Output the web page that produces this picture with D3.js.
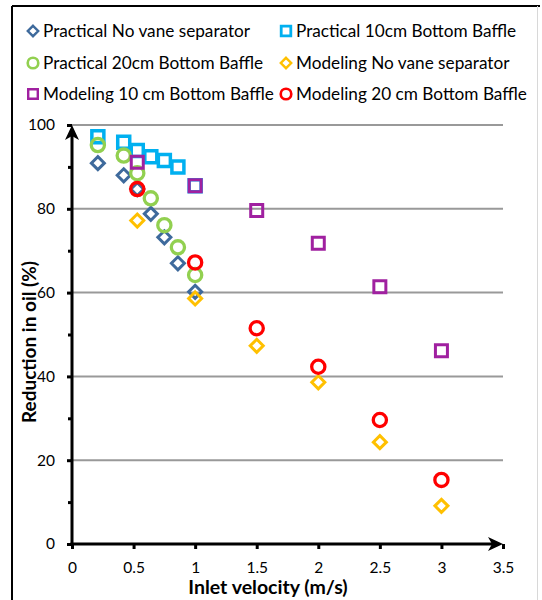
<!DOCTYPE html>
<html>
<head>
<meta charset="utf-8">
<script src="https://cdn.jsdelivr.net/npm/d3@7"></script>
<style>
  html, body { margin: 0; padding: 0; background: #fff; }
  svg { display: block; }
  text { font-family: Lato, "Open Sans", sans-serif; fill: #000; }
</style>
</head>
<body>
<svg id="chart" width="542" height="600"></svg>
<script>
// Inlet velocity (m/s) for the practical runs and the modelling runs
const practicalVelocity = [0.21, 0.42, 0.53, 0.64, 0.75, 0.86, 1.0];
const modelingVelocity = [0.53, 1.0, 1.5, 2.0, 2.5, 3.0];

// Reduction in oil (%) per configuration
const practicalNoVane = [90.9, 88.0, 84.7, 78.8, 73.2, 67.0, 60.2];
const practical10cm = [97.2, 95.9, 93.9, 92.4, 91.5, 90.0, 85.5];
const practical20cm = [95.2, 92.7, 88.5, 82.5, 76.1, 70.8, 64.2];
const modelingNoVane = [77.2, 58.6, 47.3, 38.6, 24.3, 9.1];
const modeling10cm = [91.1, 85.5, 79.6, 71.8, 61.4, 46.1];
const modeling20cm = [84.7, 67.2, 51.5, 42.3, 29.6, 15.3];

const seriesNames = [
  "Practical No vane separator", "Practical 10cm Bottom Baffle",
  "Practical 20cm Bottom Baffle", "Modeling No vane separator",
  "Modeling 10 cm Bottom Baffle", "Modeling 20 cm Bottom Baffle"
];

const xTicks = [0, 0.5, 1, 1.5, 2, 2.5, 3, 3.5];
const yTicks = [0, 20, 40, 60, 80, 100];
const yMinorTicks = [10, 30, 50, 70, 90];

const series = [
  { name: seriesNames[0], xs: practicalVelocity, ys: practicalNoVane, shape: "diamond", color: "#3E6A9C" },
  { name: seriesNames[1], xs: practicalVelocity, ys: practical10cm, shape: "square", color: "#00B0F0" },
  { name: seriesNames[2], xs: practicalVelocity, ys: practical20cm, shape: "circle", color: "#92D050" },
  { name: seriesNames[3], xs: modelingVelocity, ys: modelingNoVane, shape: "diamond", color: "#FFC000" },
  { name: seriesNames[4], xs: modelingVelocity, ys: modeling10cm, shape: "square", color: "#A020A0" },
  { name: seriesNames[5], xs: modelingVelocity, ys: modeling20cm, shape: "circle", color: "#FF0000" }
];

const svg = d3.select("#chart");

// outer frame
svg.append("line").attr("x1", 12).attr("y1", 6).attr("x2", 540).attr("y2", 6)
  .attr("stroke", "#000").attr("stroke-width", 2);
svg.append("line").attr("x1", 12).attr("y1", 6).attr("x2", 12).attr("y2", 600)
  .attr("stroke", "#000").attr("stroke-width", 2);
svg.append("line").attr("x1", 537.5).attr("y1", 6).attr("x2", 537.5).attr("y2", 600)
  .attr("stroke", "#d8d8d8").attr("stroke-width", 1);

const x = d3.scaleLinear().domain([0, 3.5]).range([72, 503]);
const y = d3.scaleLinear().domain([0, 100]).range([544, 125]);

// horizontal gridlines
svg.append("g").selectAll("line")
  .data(yTicks.filter(d => d > 0))
  .join("line")
  .attr("x1", x(0)).attr("x2", x(3.5))
  .attr("y1", d => y(d)).attr("y2", d => y(d))
  .attr("stroke", "#999").attr("stroke-width", 2);

// y axis: major ticks with labels, minor ticks without
const yAxis = svg.append("g").attr("transform", `translate(${x(0)},0)`)
  .call(d3.axisLeft(y).tickValues(yTicks).tickSize(5).tickPadding(12).tickFormat(d3.format("d")));
yAxis.select(".domain").remove();
yAxis.selectAll(".tick line").attr("stroke", "#000").attr("stroke-width", 3);
yAxis.selectAll(".tick text").style("font-size", "15.5px").style("font-family", "Lato, sans-serif");

const yMinor = svg.append("g").attr("transform", `translate(${x(0)},0)`)
  .call(d3.axisLeft(y).tickValues(yMinorTicks).tickSize(4).tickFormat(""));
yMinor.select(".domain").remove();
yMinor.selectAll(".tick line").attr("stroke", "#000").attr("stroke-width", 3);

// x axis
const xAxis = svg.append("g").attr("transform", `translate(0,${y(0)})`)
  .call(d3.axisBottom(x).tickValues(xTicks).tickSize(5).tickPadding(13).tickFormat(d3.format("")));
xAxis.select(".domain").remove();
xAxis.selectAll(".tick line").attr("stroke", "#000").attr("stroke-width", 3);
xAxis.selectAll(".tick text").style("font-size", "15.5px").style("font-family", "Lato, sans-serif");

// axis lines with arrow heads
svg.append("line").attr("x1", x(0)).attr("x2", x(0)).attr("y1", y(0) + 1.5).attr("y2", y(100) + 4)
  .attr("stroke", "#000").attr("stroke-width", 3);
svg.append("line").attr("x1", x(0) - 1.5).attr("x2", x(3.5) - 4).attr("y1", y(0)).attr("y2", y(0))
  .attr("stroke", "#000").attr("stroke-width", 3);
svg.append("path")
  .attr("d", `M${x(0)},${y(100)} L${x(0) - 7},${y(100) + 15} L${x(0)},${y(100) + 11} L${x(0) + 7},${y(100) + 15} Z`)
  .attr("fill", "#000");
svg.append("path")
  .attr("d", `M${x(3.5)},${y(0)} L${x(3.5) - 15},${y(0) - 7} L${x(3.5) - 11},${y(0)} L${x(3.5) - 15},${y(0) + 7} Z`)
  .attr("fill", "#000");

// axis titles
svg.append("text")
  .attr("x", 268).attr("y", 594)
  .attr("text-anchor", "middle")
  .style("font-size", "19.5px").style("font-weight", "bold")
  .text("Inlet velocity (m/s)");
svg.append("text")
  .attr("transform", `translate(36,342) rotate(-90)`)
  .attr("text-anchor", "middle")
  .style("font-size", "19px").style("font-weight", "bold")
  .text("Reduction in oil (%)");

// marker shapes
function drawMarker(g, shape, color) {
  if (shape === "circle") {
    g.append("circle").attr("r", 6.6).attr("fill", "none").attr("stroke", color).attr("stroke-width", 3.3);
  } else if (shape === "diamond") {
    g.append("path").attr("d", "M0,-6.5 L6.5,0 L0,6.5 L-6.5,0 Z").attr("fill", "none")
      .attr("stroke", color).attr("stroke-width", 3);
  } else {
    g.append("path").attr("d", "M-6,-6 H6 V6 H-6 Z").attr("fill", "none")
      .attr("stroke", color).attr("stroke-width", color === "#A020A0" ? 3 : 3.5);
  }
}

// data points
series.forEach(s => {
  const pts = s.xs.map((v, i) => ({ x: v, y: s.ys[i] }));
  svg.append("g").selectAll("g")
    .data(pts)
    .join("g")
    .attr("transform", d => `translate(${x(d.x)},${y(d.y)})`)
    .each(function () { drawMarker(d3.select(this), s.shape, s.color); });
});

// legend, two columns by three rows
const legendCols = [33, 286];
const legendRows = [31, 63, 94];
series.forEach((s, i) => {
  const lx = legendCols[i % 2], ly = legendRows[Math.floor(i / 2)];
  const g = svg.append("g").attr("transform", `translate(${lx},${ly})`);
  const m = g.append("g").attr("transform", "scale(0.8)");
  drawMarker(m, s.shape, s.color);
  g.append("text").attr("x", 10).attr("y", 0).attr("dy", "0.35em")
    .style("font-size", "17.2px").text(s.name);
});
</script>
</body>
</html>
